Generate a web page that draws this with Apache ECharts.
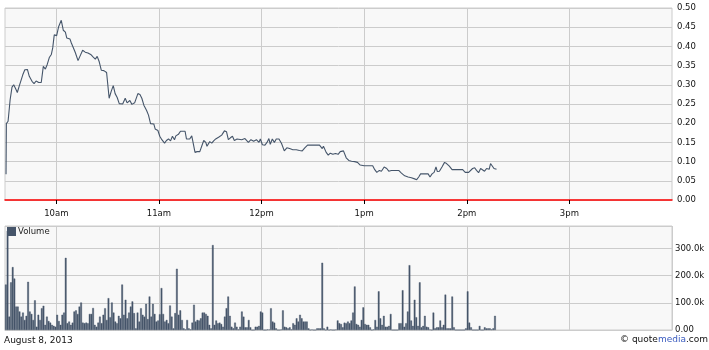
<!DOCTYPE html>
<html>
<head>
<meta charset="utf-8">
<script src="https://cdn.jsdelivr.net/npm/echarts@6/dist/echarts.min.js"></script>
<style>html,body{margin:0;padding:0;background:#fff}#c{width:709px;height:350px}</style>
</head>
<body>
<div id="c"></div>
<script>
// x values: minutes after 9:30 open
var tickMinutes = [30, 90, 150, 210, 270, 330];
var tickLabels = ['10am', '11am', '12pm', '1pm', '2pm', '3pm'];
var sessionMinutes = 390;
var priceTicks = ['0.00','0.05','0.10','0.15','0.20','0.25','0.30','0.35','0.40','0.45','0.50'];

var priceMinutes = [0.6,0.8,1.8,3.0,4.1,5.1,6.3,7.2,8.4,9.2,10.4,11.6,13.1,14.2,15.8,17.0,18.2,19.7,21.2,22.4,23.6,24.7,25.9,27.1,27.9,28.8,30.2,31.4,32.9,34.1,35.3,36.1,38.0,38.8,39.9,41.1,42.7,43.8,45.4,46.9,48.5,50.1,51.6,52.8,53.9,55.1,56.3,57.8,59.4,60.9,62.1,63.3,64.4,65.6,66.8,68.8,70.3,71.4,73.0,74.2,75.8,76.9,77.7,78.9,80.0,81.2,82.8,83.9,85.1,87.0,87.8,89.4,90.5,91.7,93.3,94.4,95.6,96.8,97.9,99.1,99.9,101.4,102.6,105.3,106.1,108.0,109.2,111.1,112.3,113.9,116.2,117.4,118.1,119.7,120.9,122.0,123.2,125.1,126.7,128.3,129.5,130.6,131.8,133.0,134.1,135.7,136.8,138.4,140.3,142.3,143.8,145.4,147.0,148.5,149.3,150.5,152.0,153.2,154.3,155.1,156.3,157.5,158.6,160.2,161.7,163.3,164.8,166.4,168.3,170.3,172.2,173.8,175.3,176.9,180.8,183.9,185.5,186.2,187.8,189.0,190.2,191.7,193.2,194.8,196.0,197.9,199.5,201.0,202.6,204.5,206.1,207.7,210.0,213.1,215.0,216.2,217.4,218.9,220.1,221.7,223.2,224.4,225.9,230.2,231.8,233.7,235.7,237.6,239.5,240.7,241.9,243.0,247.4,248.5,249.7,250.9,252.0,252.8,254.0,255.5,257.0,258.2,259.8,261.4,267.6,269.1,271.1,272.2,273.4,274.6,275.7,276.9,278.1,279.2,280.4,281.6,283.1,283.9,284.7,285.9,287.4];
var priceValues = [0.067,0.199,0.205,0.261,0.294,0.300,0.289,0.280,0.298,0.294,0.326,0.339,0.340,0.322,0.309,0.303,0.310,0.306,0.306,0.348,0.341,0.353,0.371,0.379,0.396,0.430,0.428,0.452,0.468,0.442,0.437,0.422,0.419,0.409,0.397,0.384,0.363,0.374,0.390,0.385,0.383,0.379,0.372,0.367,0.374,0.360,0.338,0.337,0.332,0.265,0.283,0.298,0.277,0.267,0.251,0.250,0.265,0.253,0.259,0.249,0.253,0.258,0.277,0.275,0.265,0.247,0.233,0.221,0.199,0.198,0.185,0.181,0.166,0.157,0.148,0.155,0.159,0.154,0.166,0.157,0.167,0.171,0.179,0.179,0.159,0.159,0.167,0.124,0.126,0.126,0.155,0.150,0.140,0.152,0.148,0.154,0.159,0.164,0.169,0.180,0.178,0.157,0.162,0.166,0.155,0.159,0.161,0.157,0.160,0.150,0.157,0.153,0.157,0.150,0.159,0.144,0.143,0.150,0.160,0.145,0.159,0.150,0.159,0.159,0.147,0.128,0.136,0.134,0.131,0.131,0.129,0.128,0.136,0.143,0.143,0.143,0.134,0.140,0.124,0.117,0.122,0.119,0.121,0.119,0.126,0.128,0.110,0.103,0.101,0.100,0.098,0.091,0.089,0.089,0.089,0.079,0.072,0.077,0.075,0.086,0.082,0.075,0.077,0.077,0.070,0.063,0.060,0.058,0.055,0.053,0.060,0.068,0.068,0.060,0.068,0.072,0.086,0.074,0.075,0.086,0.098,0.095,0.088,0.079,0.079,0.072,0.072,0.077,0.082,0.084,0.077,0.071,0.082,0.087,0.075,0.082,0.080,0.095,0.097,0.082,0.080];

// volume per minute (thousands), minute 0 = 9:30
var volumeK = [167,364,49,175,231,189,86,86,68,49,64,37,52,177,68,59,37,109,12,56,37,80,89,19,49,33,27,19,15,12,56,33,19,56,64,265,25,31,19,27,68,72,59,86,101,27,25,27,25,59,59,81,19,12,27,49,25,56,
80,37,117,47,101,64,31,25,52,43,167,56,111,43,64,86,105,62,6,64,31,80,56,49,96,40,123,49,96,59,31,35,58,154,59,31,37,25,90,49,6,62,225,56,72,37,6,2,37,6,2,27,93,31,37,35,43,64,
64,59,52,19,6,312,19,35,25,27,22,12,49,80,123,52,12,6,27,12,2,12,68,49,10,10,37,10,0,0,12,12,15,68,64,0,0,2,2,80,31,27,6,0,0,2,72,12,10,6,10,2,25,19,43,31,56,43,
31,
31,31,6,0,2,0,0,6,6,6,247,6,0,12,0,2,0,0,2,35,25,22,10,27,25,31,25,35,64,160,22,19,12,37,83,22,19,19,10,0,2,37,12,142,43,19,52,12,12,15,59,0,0,0,0,25,25,146,
12,25,68,238,35,15,111,47,15,175,10,15,52,12,10,2,0,64,6,10,10,35,10,19,130,6,6,6,123,10,0,0,0,0,0,0,6,142,27,10,0,0,0,0,15,0,0,10,6,6,6,2,6,52];
var volumeTicks = ['0.00','100.0k','200.0k','300.0k'];

var FONT = '"DejaVu Sans", Verdana, sans-serif';
var priceData = priceMinutes.map(function (m, i) { return [m, priceValues[i]]; });
var minuteCategories = [];
for (var i = 0; i < sessionMinutes; i++) minuteCategories.push(String(i));
var volData = minuteCategories.map(function (c, i) { return i < volumeK.length ? volumeK[i] : null; });
function isHourTick(idx) { return tickMinutes.indexOf(idx) >= 0; }

var chart = echarts.init(document.getElementById('c'), null, {renderer: 'canvas'});
var gridStyle = {show: true, backgroundColor: '#f8f8f8', borderColor: '#cccccc', borderWidth: 1};
chart.setOption({
  animation: false,
  textStyle: {fontFamily: FONT},
  grid: [
    Object.assign({left: 5, right: 37, top: 8, height: 192}, gridStyle),
    Object.assign({left: 5, right: 37, top: 226, height: 104}, gridStyle)
  ],
  legend: {
    data: ['Volume'], left: 7, top: 227, padding: 0, icon: 'rect',
    itemWidth: 7, itemHeight: 7, itemGap: 4, selectedMode: false,
    textStyle: {fontFamily: FONT, fontSize: 8.5, color: '#222', padding: [0, 0, 0, -2]}
  },
  xAxis: [
    {
      type: 'value', gridIndex: 0, min: 0, max: sessionMinutes,
      axisLine: {show: true, onZero: false, lineStyle: {color: '#ff0000', width: 1.5}},
      axisTick: {show: true, length: 4, customValues: tickMinutes, lineStyle: {color: '#000'}},
      axisLabel: {show: true, customValues: tickMinutes, margin: 9, fontFamily: FONT, fontSize: 8.5, color: '#111',
        formatter: function (v) { var k = tickMinutes.indexOf(v); return k >= 0 ? tickLabels[k] : ''; }},
      splitLine: {show: true, lineStyle: {color: '#cccccc', width: 1}}
    },
    {
      type: 'category', gridIndex: 1, data: minuteCategories, boundaryGap: true,
      axisLine: {show: true, onZero: false, lineStyle: {color: '#cccccc'}},
      axisTick: {show: false},
      axisLabel: {show: false},
      splitLine: {show: true, interval: function (idx) { return isHourTick(idx); }, lineStyle: {color: '#cccccc', width: 1}}
    }
  ],
  yAxis: [
    {
      type: 'value', gridIndex: 0, position: 'right', min: 0, max: 0.5, interval: 0.05,
      axisLine: {show: false}, axisTick: {show: false},
      axisLabel: {margin: 5, fontFamily: FONT, fontSize: 8.5, color: '#111',
        formatter: function (v) { return priceTicks[Math.round(v / 0.05)] || ''; }},
      splitLine: {show: true, lineStyle: {color: '#cccccc', width: 1}}
    },
    {
      type: 'value', gridIndex: 1, position: 'right', min: 0, max: 382, interval: 100,
      axisLine: {show: false}, axisTick: {show: false},
      axisLabel: {margin: 3, fontFamily: FONT, fontSize: 8.5, color: '#111',
        formatter: function (v) { return (v % 100 === 0) ? (volumeTicks[v / 100] || '') : ''; }},
      splitLine: {show: true, lineStyle: {color: '#cccccc', width: 1}}
    }
  ],
  series: [
    {
      name: 'Price', type: 'line', xAxisIndex: 0, yAxisIndex: 0, data: priceData,
      symbol: 'none', lineStyle: {color: '#45556a', width: 1.1}, itemStyle: {color: '#45556a'}
    },
    {
      name: 'Volume', type: 'bar', xAxisIndex: 1, yAxisIndex: 1, data: volData,
      barWidth: '100%', barCategoryGap: '0%',
      itemStyle: {color: '#46556a', borderColor: '#46556a', borderWidth: 0.4}
    }
  ],
  graphic: [
    {type: 'text', left: 4, top: 336, style: {text: 'August 8, 2013', font: '9px ' + FONT, fill: '#111'}},
    {type: 'text', right: 1, top: 335, style: {
      text: '{a|© quote}{b|media}{a|.com}',
      rich: {
        a: {fontFamily: FONT, fontSize: 9, fill: '#111', color: '#111'},
        b: {fontFamily: FONT, fontSize: 9, fill: '#3a5bbf', color: '#3a5bbf'}
      }
    }}
  ]
});
</script>
</body>
</html>
